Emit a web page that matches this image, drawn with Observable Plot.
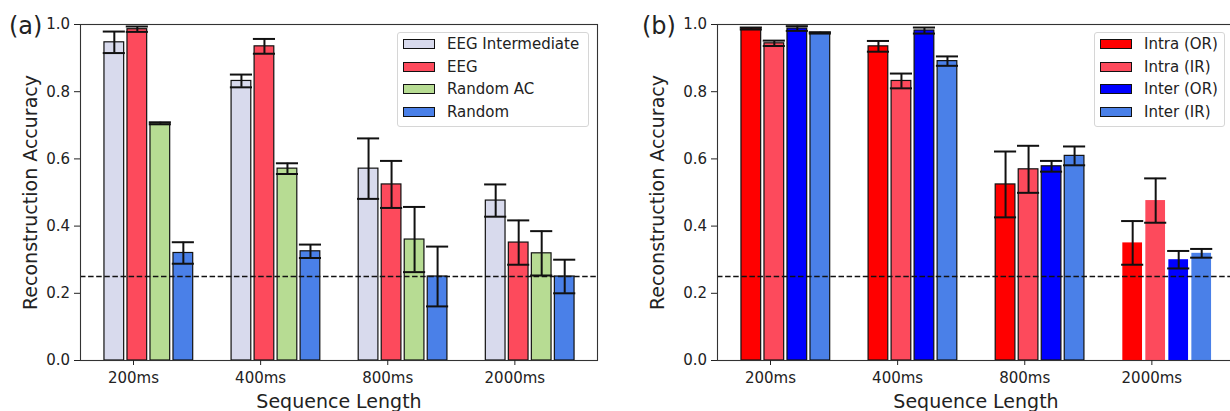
<!DOCTYPE html>
<html><head><meta charset="utf-8">
<script src="https://cdn.jsdelivr.net/npm/d3@7"></script>
<script src="https://cdn.jsdelivr.net/npm/@observablehq/plot@0.6"></script>
<style>
html,body{margin:0;padding:0;background:#fff;overflow:hidden;width:1230px;height:411px;}
body{position:relative;font-family:"DejaVu Sans",sans-serif;color:#222;}
.panel{position:absolute;top:0;width:615px;height:411px;}
.panel svg{max-width:none;display:block;}
.tag{position:absolute;font-size:24px;line-height:24px;white-space:nowrap;z-index:5;}
.legend{position:absolute;border:1px solid #d6d6d6;border-radius:3px;background:rgba(255,255,255,0.85);box-sizing:border-box;z-index:4;}
.legend .row{position:absolute;display:flex;align-items:center;height:22px;font-size:15px;white-space:nowrap;}
.legend .sw{width:32px;height:10px;border:1.2px solid #111;box-sizing:border-box;margin-right:12px;}
</style>
</head><body>
<div id="pa" class="panel" style="left:0px"></div>
<div id="pb" class="panel" style="left:637px"></div>
<div class="tag" style="left:9px;top:14px">(a)</div>
<div class="tag" style="left:642px;top:14px">(b)</div>
<div id="la" class="legend" style="left:397px;top:32px;width:192px;height:95px"></div>
<div id="lb" class="legend" style="left:1094px;top:32px;width:131px;height:95px"></div>
<script>
// ---- data ----
const lengths = ["200ms", "400ms", "800ms", "2000ms"];
const yTicks = [0, 0.2, 0.4, 0.6, 0.8, 1.0];
const chanceLevel = 0.25;

const seriesA = ["EEG Intermediate", "EEG", "Random AC", "Random"];
const colorsA = ["#d8daed", "#fd4a5c", "#b7dc93", "#4a80e8"];
const eegIntermediate = [0.947, 0.832, 0.571, 0.476];
const eegIntermediateErr = [0.032, 0.019, 0.090, 0.048];
const eeg = [0.986, 0.935, 0.524, 0.351];
const eegErr = [0.008, 0.022, 0.070, 0.066];
const randomAC = [0.706, 0.571, 0.360, 0.319];
const randomACErr = [0.003, 0.016, 0.097, 0.066];
const random = [0.320, 0.325, 0.250, 0.250];
const randomErr = [0.032, 0.020, 0.089, 0.050];

const seriesB = ["Intra (OR)", "Intra (IR)", "Inter (OR)", "Inter (IR)"];
const colorsB = ["#ff0000", "#fd4a5c", "#0000ff", "#4a80e8"];
const intraOR = [0.988, 0.935, 0.524, 0.350];
const intraORErr = [0.003, 0.016, 0.098, 0.065];
const intraIR = [0.944, 0.832, 0.569, 0.476];
const intraIRErr = [0.008, 0.022, 0.070, 0.066];
const interOR = [0.988, 0.982, 0.578, 0.300];
const interORErr = [0.007, 0.009, 0.016, 0.026];
const interIR = [0.975, 0.891, 0.609, 0.319];
const interIRErr = [0.002, 0.014, 0.028, 0.013];

// ---- layout (in x data units: one group = 1) ----
const barStep = 0.181, barOffset0 = -0.151, barWidth = 0.155, capHalf = 0.087;

function buildRows(names, vals, errs) {
  const rows = [];
  names.forEach((name, k) => {
    lengths.forEach((len, g) => {
      rows.push({name, k, g, value: vals[k][g], err: errs[k][g], c: g + barOffset0 + k * barStep});
    });
  });
  return rows;
}

const rowsA = buildRows(seriesA, [eegIntermediate, eeg, randomAC, random], [eegIntermediateErr, eegErr, randomACErr, randomErr]);
const rowsB = buildRows(seriesB, [intraOR, intraIR, interOR, interIR], [intraORErr, intraIRErr, interORErr, interIRErr]);

function makePanel(rows, names, colors, noEdge, ylabDx) {
  const edged = rows.filter(d => !noEdge(d));
  const plain = rows.filter(d => noEdge(d));
  return Plot.plot({
    width: 615, height: 411,
    marginLeft: 80, marginRight: 18, marginTop: 24, marginBottom: 51,
    x: {domain: [-0.417, 3.65]},
    y: {domain: [0, 1]},
    color: {domain: names, range: colors},
    style: {fontFamily: "DejaVu Sans", color: "#222", background: "transparent", overflow: "visible"},
    marks: [
      Plot.rect(edged, {x1: d => d.c - barWidth / 2, x2: d => d.c + barWidth / 2, y1: 0, y2: "value", fill: "name", stroke: "#111", strokeWidth: 1.2}),
      Plot.rect(plain, {x1: d => d.c - barWidth / 2, x2: d => d.c + barWidth / 2, y1: 0, y2: "value", fill: "name"}),
      Plot.ruleX(rows, {x: "c", y1: d => d.value - d.err, y2: d => d.value + d.err, stroke: "#111", strokeWidth: 2}),
      Plot.ruleY(rows, {y: d => d.value + d.err, x1: d => d.c - capHalf, x2: d => d.c + capHalf, stroke: "#111", strokeWidth: 2}),
      Plot.ruleY(rows, {y: d => d.value - d.err, x1: d => d.c - capHalf, x2: d => d.c + capHalf, stroke: "#111", strokeWidth: 2}),
      Plot.ruleY([chanceLevel], {stroke: "#111", strokeWidth: 1.3, strokeDasharray: "5.5,2.6"}),
      Plot.frame({stroke: "#333", strokeWidth: 1.1}),
      Plot.axisY({ticks: yTicks, tickFormat: d => d.toFixed(1), fontSize: 15, tickSize: 6, tickPadding: 4.5, label: null}),
      Plot.axisX({ticks: [0, 1, 2, 3], tickFormat: i => lengths[i], fontSize: 15, tickSize: 5, tickPadding: 7, label: null}),
      Plot.text(["Reconstruction Accuracy"], {text: d => d, frameAnchor: "left", textAnchor: "middle", rotate: -90, lineAnchor: "bottom", dx: ylabDx, fontSize: 19}),
      Plot.text(["Sequence Length"], {text: d => d, frameAnchor: "bottom", textAnchor: "middle", lineAnchor: "bottom", dy: 47, fontSize: 19})
    ]
  });
}

document.getElementById("pa").append(makePanel(rowsA, seriesA, colorsA, d => false, -44));
document.getElementById("pb").append(makePanel(rowsB, seriesB, colorsB, d => d.g === 3, -54));

function legend(id, names, colors, swLeft) {
  const box = document.getElementById(id);
  const centers = [12, 34.7, 57, 79.7];
  names.forEach((n, i) => {
    const row = document.createElement("div");
    row.className = "row";
    row.style.left = swLeft + "px";
    row.style.top = (centers[i] - 11 - 1) + "px";
    const sw = document.createElement("div");
    sw.className = "sw";
    sw.style.background = colors[i];
    const t = document.createElement("span");
    t.textContent = n;
    row.append(sw, t);
    box.append(row);
  });
}
legend("la", seriesA, colorsA, 5);
legend("lb", seriesB, colorsB, 5);
</script>
</body></html>
